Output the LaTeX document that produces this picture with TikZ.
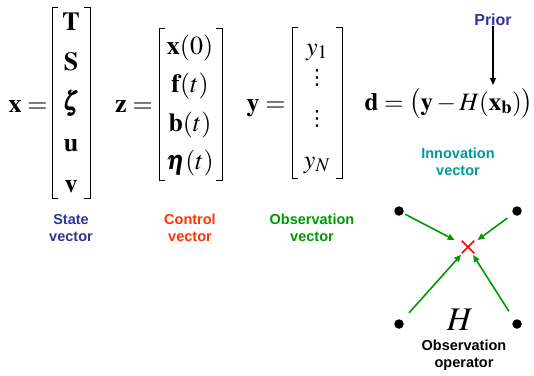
\documentclass[tikz,border=0pt]{standalone}
\usepackage{amsmath}
\usepackage{mathptmx}
\usepackage{bm}
\usepackage{fontspec}
\setmainfont{Liberation Serif}
\setsansfont{Liberation Sans}
\newfontfamily\dotsfont{DejaVu Sans}
\definecolor{statenavy}{RGB}{51, 51, 153}
\definecolor{controlred}{RGB}{255, 51, 0}
\definecolor{obsgreen}{RGB}{0, 153, 0}
\definecolor{innovteal}{RGB}{0, 153, 153}
\usetikzlibrary{
    arrows.meta,
    shapes.misc
}

\begin{document}
\begin{tikzpicture}[x=1pt, y=-1pt,
    eqn/.style={font=\fontsize{26}{30}\selectfont, inner sep=0pt, anchor=base},
    entry/.style={font=\fontsize{26}{30}\selectfont, inner sep=0pt, anchor=base},
    vdotsnode/.style={font=\dotsfont\fontsize{21}{25}\selectfont, inner sep=0pt},
    caption/.style={font=\sffamily\bfseries\fontsize{14.5}{17}\selectfont, align=center, inner sep=0pt},
    bracket/.style={black, line width=0.8pt},
    obsdot/.style={circle, fill=black, minimum size=9.5pt, inner sep=0pt},
    obsarrow/.style={-{Triangle[length=7pt, width=6pt]}, obsgreen, line width=1.6pt}]
    \useasboundingbox (0,0) rectangle (534,375);

    % State vector
    \node[eqn] (xeq) at (28,112) {$\mathbf{x}=$};
    \draw[bracket] (58,7) -- (52,7) -- (52,198) -- (58,198);
    \draw[bracket] (84,7) -- (90,7) -- (90,198) -- (84,198);
    \node[entry] (xT) at (71,30) {$\mathbf{T}$};
    \node[entry] (xS) at (71,70) {$\mathbf{S}$};
    \node[entry] (xzeta) at (71,110) {$\bm{\zeta}$};
    \node[entry] (xu) at (71,151) {$\mathbf{u}$};
    \node[entry] (xv) at (71,192) {$\mathbf{v}$};
    \node[caption, statenavy] (statelbl) at (71,228) {State\\vector};

    % Control vector
    \node[eqn] (zeq) at (134,112) {$\mathbf{z}=$};
    \draw[bracket] (165,28) -- (159,28) -- (159,180) -- (165,180);
    \draw[bracket] (216,28) -- (222,28) -- (222,180) -- (216,180);
    \node[entry] (zx) at (190,54) {$\mathbf{x}(0)$};
    \node[entry] (zf) at (190,92) {$\mathbf{f}(t)$};
    \node[entry] (zb) at (190,131) {$\mathbf{b}(t)$};
    \node[entry] (zeta) at (190,169) {$\bm{\eta}(t)$};
    \node[caption, controlred] (controllbl) at (190,228) {Control\\vector};

    % Observation vector
    \node[eqn] (yeq) at (266,111) {$\mathbf{y}=$};
    \draw[bracket] (298,27) -- (292,27) -- (292,178) -- (298,178);
    \draw[bracket] (336,27) -- (342,27) -- (342,178) -- (336,178);
    \node[entry] (y1) at (317,55) {$y_1$};
    \node[vdotsnode] (ydots1) at (317,78) {⋮};
    \node[vdotsnode] (ydots2) at (317,119) {⋮};
    \node[entry] (yN) at (317,168) {$y_N$};
    \node[caption, obsgreen] (obslbl) at (312,228) {Observation\\vector};

    % Innovation vector
    \node[eqn, font=\fontsize{25}{30}\selectfont] (deq) at (449,110) {$\mathbf{d}=\bigl(\mathbf{y}-H(\mathbf{x}_{\mathbf{b}})\bigr)$};
    \coordinate (xb) at (493,85);
    \node[caption, statenavy, font=\sffamily\bfseries\fontsize{16}{18}\selectfont] (prior) at (493,20) {Prior};
    \draw[-{Triangle[length=7pt, width=6pt]}, line width=1.2pt] (prior) -- (xb);
    \node[caption, innovteal] (innovlbl) at (458,162) {Innovation\\vector};

    % Observation operator
    \node[obsdot] (dtl) at (399,211) {};
    \node[obsdot] (dtr) at (517,211) {};
    \node[obsdot] (dbl) at (399,324) {};
    \node[obsdot] (dbr) at (517,324) {};
    \node[cross out, draw=red, line width=1.5pt, minimum size=11pt, inner sep=0pt] (obsx) at (468,247) {};
    \draw[obsarrow, shorten <=2pt, shorten >=8pt] (dtl) -- (obsx);
    \draw[obsarrow, shorten <=7pt, shorten >=4pt] (dtr) -- (obsx);
    \draw[obsarrow, shorten <=10pt, shorten >=2pt] (dbl) -- (obsx);
    \draw[obsarrow, shorten <=10pt, shorten >=2pt] (dbr) -- (obsx);
    \node[font=\fontsize{33}{36}\selectfont, inner sep=0pt] (hop) at (460,320) {$H$};
    \node[caption, black] (oplbl) at (464,355) {Observation\\operator};
\end{tikzpicture}
\end{document}
